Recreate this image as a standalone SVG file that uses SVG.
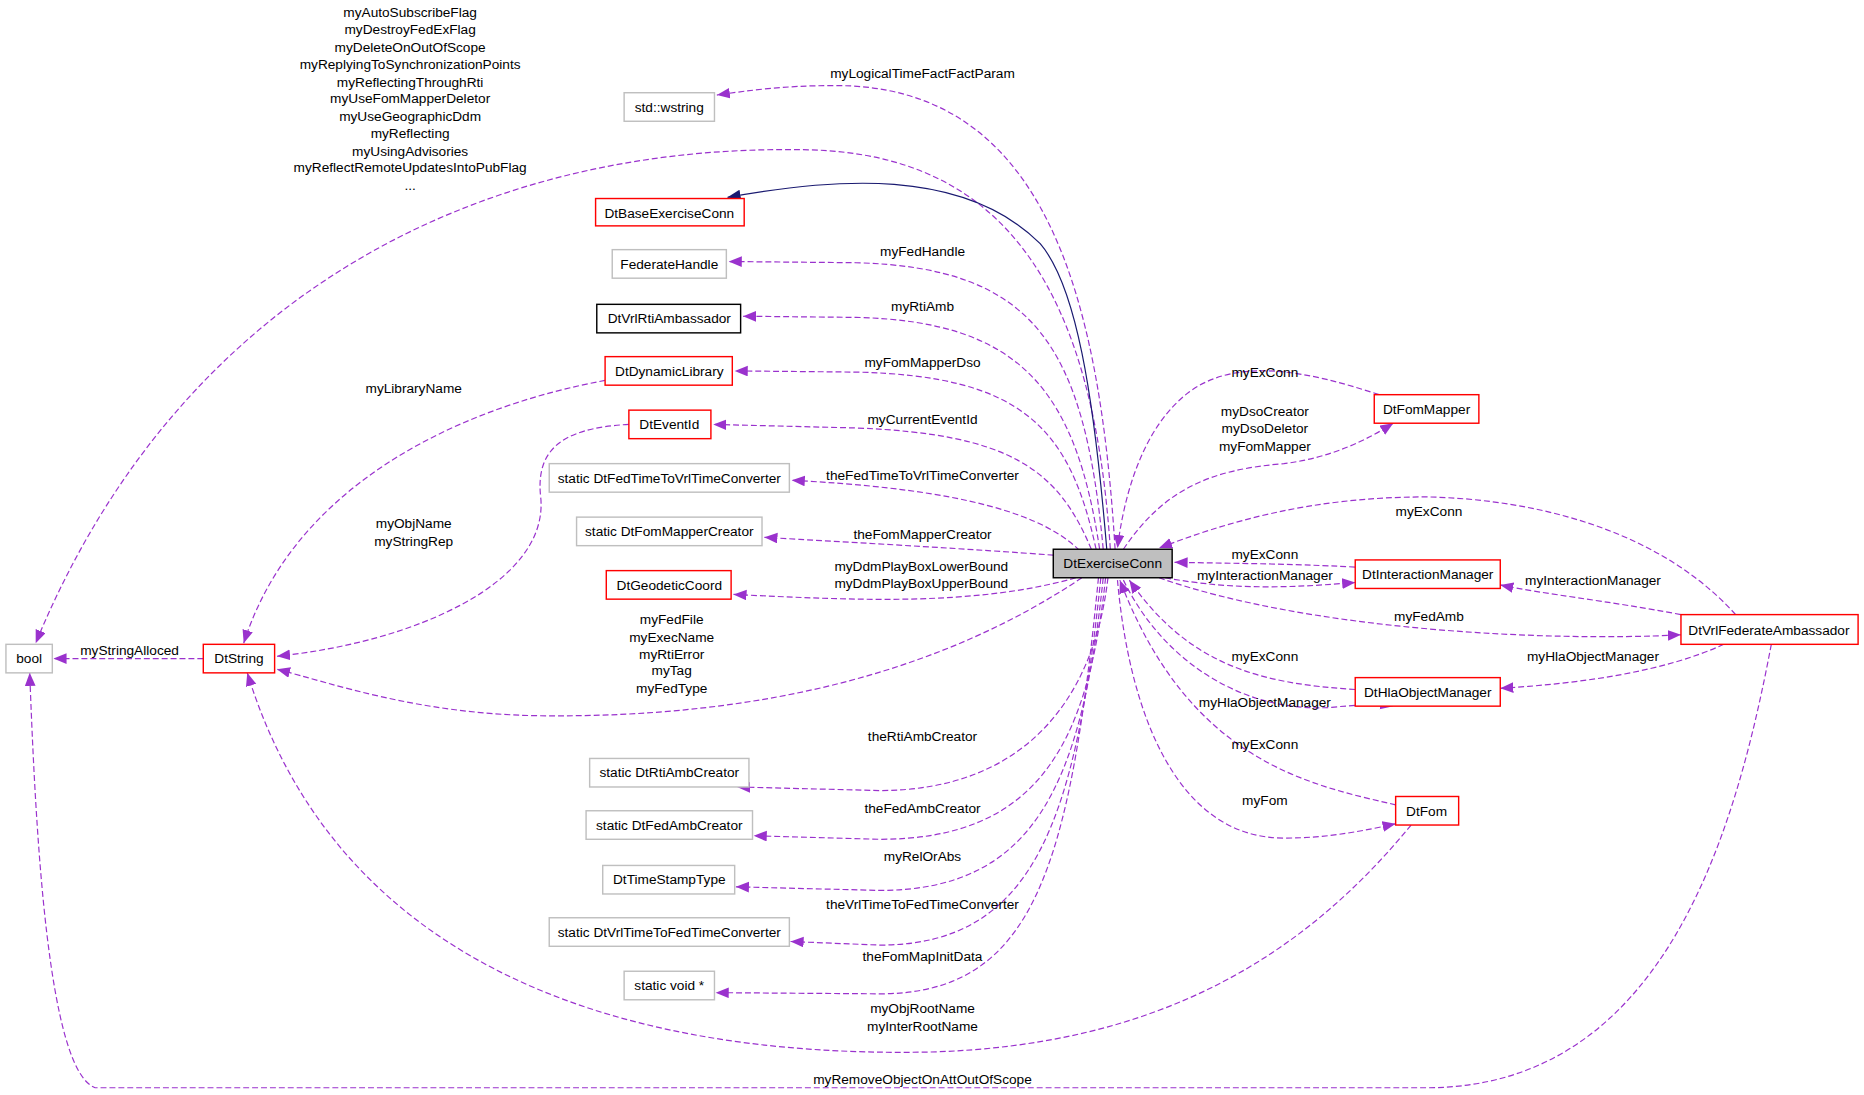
<svg xmlns="http://www.w3.org/2000/svg" width="1864" height="1095" viewBox="0 0 1864 1095">
<style>
text{font-family:"Liberation Sans",Arial,sans-serif;font-size:11.5px;fill:#000}
.n text{text-anchor:middle}
.l{text-anchor:middle}
.box{fill:#fff;stroke-width:1.2}
.red{stroke:#ff0000}.gray{stroke:#bfbfbf}.blk{stroke:#000}
.e{fill:none;stroke:#9a32cd;stroke-width:1;stroke-dasharray:5,2.5}
.inh{fill:none;stroke:#191970;stroke-width:1}
</style>
<defs>
<marker id="a" markerUnits="userSpaceOnUse" markerWidth="12" markerHeight="10" refX="11" refY="4.5" orient="auto"><path d="M0,0L11,4.5L0,9z" fill="#9a32cd"/></marker>
<marker id="b" markerUnits="userSpaceOnUse" markerWidth="12" markerHeight="10" refX="11" refY="4.5" orient="auto"><path d="M0,0L11,4.5L0,9z" fill="#191970"/></marker>
</defs>
<rect width="1864" height="1095" fill="#fff"/>
<g transform="scale(1.1888)">
<g id="edges">
<path class="e" marker-end="url(#a)" d="M938,462 C925,250 880,70 700,72 C660,72 630,76 603,80"/>
<path class="e" marker-end="url(#a)" d="M934,462 C920,250 850,130 680,126 C400,120 150,250 30,541"/>
<path class="inh" marker-end="url(#b)" d="M931,462 C920,330 905,240 875,205 C810,140 700,150 612,166"/>
<path class="e" marker-end="url(#a)" d="M928,462 C912,290 870,225 720,221 L613,220"/>
<path class="e" marker-end="url(#a)" d="M925,462 C905,330 860,270 720,267 L625,266"/>
<path class="e" marker-end="url(#a)" d="M922,462 C900,360 860,316 720,313 L618,312"/>
<path class="e" marker-end="url(#a)" d="M918,462 C890,395 850,365 720,360 L600,357"/>
<path class="e" marker-end="url(#a)" d="M908,463 C870,425 780,410 666,404"/>
<path class="e" marker-end="url(#a)" d="M886,467 C820,462 730,457 643,452"/>
<path class="e" marker-end="url(#a)" d="M905,486 C820,510 720,505 617,500"/>
<path class="e" marker-end="url(#a)" d="M910,486 C800,560 650,605 450,602 C350,600 280,575 233,563"/>
<path class="e" marker-end="url(#a)" d="M932,486 C920,590 860,665 740,665 L620,662"/>
<path class="e" marker-end="url(#a)" d="M930,486 C915,630 870,706 740,706 L634,703"/>
<path class="e" marker-end="url(#a)" d="M928,486 C910,660 870,749 740,749 L619,746"/>
<path class="e" marker-end="url(#a)" d="M926,486 C905,690 870,795 740,795 L665,792"/>
<path class="e" marker-end="url(#a)" d="M924,486 C900,730 870,836 740,836 L602,835"/>
<path class="e" marker-end="url(#a)" d="M1160,332 C1100,312 1040,300 1000,330 C960,360 945,420 940,461"/>
<path class="e" marker-end="url(#a)" d="M945,462 C980,410 1020,395 1080,390 C1120,385 1150,370 1172,356"/>
<path class="e" marker-end="url(#a)" d="M1460,517 C1400,450 1300,420 1200,418 C1100,418 1030,440 975,461"/>
<path class="e" marker-end="url(#a)" d="M1140,477 C1080,474 1040,474 988,473"/>
<path class="e" marker-end="url(#a)" d="M980,486 C1040,497 1090,494 1140,490"/>
<path class="e" marker-end="url(#a)" d="M975,486 C1100,530 1300,540 1414,534"/>
<path class="e" marker-end="url(#a)" d="M1414,517 C1350,505 1300,500 1262,492"/>
<path class="e" marker-end="url(#a)" d="M1140,580 C1060,575 1000,560 950,488"/>
<path class="e" marker-end="url(#a)" d="M945,488 C980,560 1050,600 1120,595 C1140,593 1160,592 1172,594"/>
<path class="e" marker-end="url(#a)" d="M1450,542 C1400,565 1330,575 1262,579"/>
<path class="e" marker-end="url(#a)" d="M1174,677 C1100,660 1000,640 942,488"/>
<path class="e" marker-end="url(#a)" d="M940,488 C950,600 990,705 1080,705 C1120,705 1150,698 1174,693"/>
<path class="e" marker-end="url(#a)" d="M1187,694 C1100,800 980,880 780,885 C500,890 280,800 208,566"/>
<path class="e" marker-end="url(#a)" d="M1490,542 C1460,700 1400,915 1200,915 L80,915 C40,900 30,700 25,566"/>
<path class="e" marker-end="url(#a)" d="M509,320 C400,340 250,400 205,541"/>
<path class="e" marker-end="url(#a)" d="M529,357 C470,360 450,380 455,420 C460,490 350,540 233,552"/>
<path class="e" marker-end="url(#a)" d="M171,554 L45,554"/>
<g class="lbl">
<text class="l" x="776" y="66">myLogicalTimeFactFactParam</text>
<text class="l" x="345" y="14">myAutoSubscribeFlag</text>
<text class="l" x="345" y="29">myDestroyFedExFlag</text>
<text class="l" x="345" y="44">myDeleteOnOutOfScope</text>
<text class="l" x="345" y="58">myReplyingToSynchronizationPoints</text>
<text class="l" x="345" y="73">myReflectingThroughRti</text>
<text class="l" x="345" y="87">myUseFomMapperDeletor</text>
<text class="l" x="345" y="102">myUseGeographicDdm</text>
<text class="l" x="345" y="116">myReflecting</text>
<text class="l" x="345" y="131">myUsingAdvisories</text>
<text class="l" x="345" y="145">myReflectRemoteUpdatesIntoPubFlag</text>
<text class="l" x="345" y="160">...</text>
<text class="l" x="776" y="215">myFedHandle</text>
<text class="l" x="776" y="262">myRtiAmb</text>
<text class="l" x="776" y="309">myFomMapperDso</text>
<text class="l" x="776" y="357">myCurrentEventId</text>
<text class="l" x="776" y="404">theFedTimeToVrlTimeConverter</text>
<text class="l" x="776" y="453">theFomMapperCreator</text>
<text class="l" x="775" y="480">myDdmPlayBoxLowerBound</text>
<text class="l" x="775" y="495">myDdmPlayBoxUpperBound</text>
<text class="l" x="565" y="525">myFedFile</text>
<text class="l" x="565" y="540">myExecName</text>
<text class="l" x="565" y="554">myRtiError</text>
<text class="l" x="565" y="568">myTag</text>
<text class="l" x="565" y="583">myFedType</text>
<text class="l" x="776" y="623">theRtiAmbCreator</text>
<text class="l" x="776" y="684">theFedAmbCreator</text>
<text class="l" x="776" y="724">myRelOrAbs</text>
<text class="l" x="776" y="765">theVrlTimeToFedTimeConverter</text>
<text class="l" x="776" y="808">theFomMapInitData</text>
<text class="l" x="776" y="852">myObjRootName</text>
<text class="l" x="776" y="867">myInterRootName</text>
<text class="l" x="776" y="912">myRemoveObjectOnAttOutOfScope</text>
<text class="l" x="348" y="331">myLibraryName</text>
<text class="l" x="348" y="444">myObjName</text>
<text class="l" x="348" y="459">myStringRep</text>
<text class="l" x="109" y="551">myStringAlloced</text>
<text class="l" x="1064" y="317">myExConn</text>
<text class="l" x="1064" y="350">myDsoCreator</text>
<text class="l" x="1064" y="364">myDsoDeletor</text>
<text class="l" x="1064" y="379">myFomMapper</text>
<text class="l" x="1202" y="434">myExConn</text>
<text class="l" x="1064" y="470">myExConn</text>
<text class="l" x="1064" y="488">myInteractionManager</text>
<text class="l" x="1202" y="522">myFedAmb</text>
<text class="l" x="1340" y="492">myInteractionManager</text>
<text class="l" x="1064" y="556">myExConn</text>
<text class="l" x="1064" y="595">myHlaObjectManager</text>
<text class="l" x="1340" y="556">myHlaObjectManager</text>
<text class="l" x="1064" y="630">myExConn</text>
<text class="l" x="1064" y="677">myFom</text>
</g>
</g>
<g id="n_exconn" class="n"><rect x="886" y="462" width="100" height="24" fill="#bfbfbf" stroke="#000" stroke-width="1.2"/><text x="936" y="478">DtExerciseConn</text></g>
<g id="n_wstring" class="n"><rect class="box gray" x="525" y="78" width="76" height="24"/><text x="563" y="94">std::wstring</text></g>
<g id="n_base" class="n"><rect class="box red" x="501" y="167" width="125" height="23"/><text x="563" y="183">DtBaseExerciseConn</text></g>
<g id="n_fedhandle" class="n"><rect class="box gray" x="515" y="210" width="96" height="24"/><text x="563" y="226">FederateHandle</text></g>
<g id="n_rtiamb" class="n"><rect class="box blk" x="502" y="256" width="121" height="24"/><text x="563" y="272">DtVrlRtiAmbassador</text></g>
<g id="n_dynlib" class="n"><rect class="box red" x="509" y="300" width="107" height="24"/><text x="563" y="316">DtDynamicLibrary</text></g>
<g id="n_eventid" class="n"><rect class="box red" x="529" y="345" width="69" height="24"/><text x="563" y="361">DtEventId</text></g>
<g id="n_fed2vrl" class="n"><rect class="box gray" x="462" y="390" width="202" height="24"/><text x="563" y="406">static DtFedTimeToVrlTimeConverter</text></g>
<g id="n_fmcreator" class="n"><rect class="box gray" x="485" y="435" width="156" height="24"/><text x="563" y="451">static DtFomMapperCreator</text></g>
<g id="n_geo" class="n"><rect class="box red" x="510" y="480" width="105" height="24"/><text x="563" y="496">DtGeodeticCoord</text></g>
<g id="n_rticreator" class="n"><rect class="box gray" x="496" y="638" width="134" height="24"/><text x="563" y="654">static DtRtiAmbCreator</text></g>
<g id="n_fedcreator" class="n"><rect class="box gray" x="493" y="682" width="140" height="24"/><text x="563" y="698">static DtFedAmbCreator</text></g>
<g id="n_tst" class="n"><rect class="box gray" x="507" y="728" width="111" height="24"/><text x="563" y="744">DtTimeStampType</text></g>
<g id="n_vrl2fed" class="n"><rect class="box gray" x="462" y="772" width="202" height="24"/><text x="563" y="788">static DtVrlTimeToFedTimeConverter</text></g>
<g id="n_void" class="n"><rect class="box gray" x="525" y="817" width="76" height="24"/><text x="563" y="833">static void *</text></g>
<g id="n_bool" class="n"><rect class="box gray" x="5" y="542" width="39" height="24"/><text x="24.5" y="558">bool</text></g>
<g id="n_string" class="n"><rect class="box red" x="171" y="542" width="60" height="24"/><text x="201" y="558">DtString</text></g>
<g id="n_fommapper" class="n"><rect class="box red" x="1156" y="332" width="88" height="24"/><text x="1200" y="348">DtFomMapper</text></g>
<g id="n_interact" class="n"><rect class="box red" x="1140" y="471" width="122" height="24"/><text x="1201" y="487">DtInteractionManager</text></g>
<g id="n_hla" class="n"><rect class="box red" x="1140" y="570" width="122" height="24"/><text x="1201" y="586">DtHlaObjectManager</text></g>
<g id="n_fom" class="n"><rect class="box red" x="1174" y="670" width="53" height="24"/><text x="1200" y="686">DtFom</text></g>
<g id="n_vrlfed" class="n"><rect class="box red" x="1414" y="517" width="149" height="25"/><text x="1488" y="534">DtVrlFederateAmbassador</text></g>
</g>
</svg>
